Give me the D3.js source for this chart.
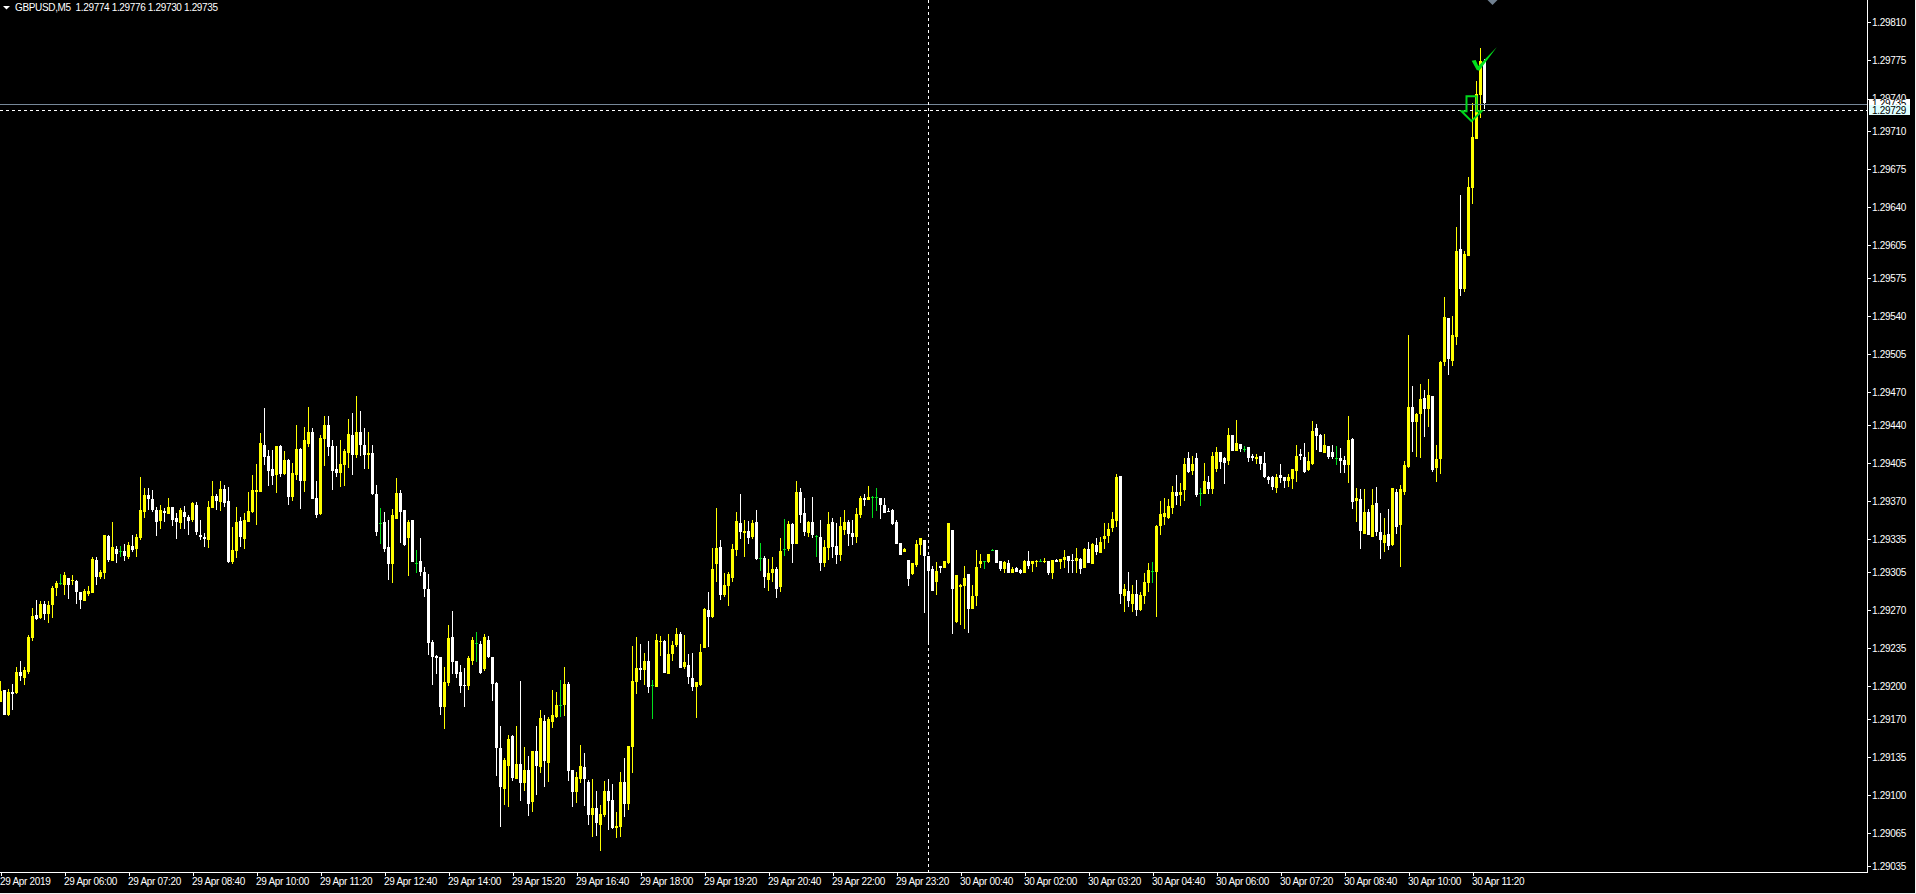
<!DOCTYPE html>
<html>
<head>
<meta charset="utf-8">
<style>
html,body{margin:0;padding:0;background:#000;overflow:hidden}
svg{display:block}
text{font-family:"Liberation Sans",Arial,sans-serif;font-size:10px;letter-spacing:-0.3px}
</style>
<script src="https://cdn.jsdelivr.net/npm/d3@7/dist/d3.min.js"></script>
</head>
<body>
<svg id="c" width="1916" height="894"></svg>
<script>
// All prices are in points above 1.29000 (1 point = 0.00001)
const highs = [
205,197,198,202,218,223,218,247,272,279,278,278,278,292,297,303,305,300,302,298,
287,289,292,319,319,307,339,339,351,329,329,331,333,339,340,392,382,382,380,365,
367,364,373,365,359,364,366,357,369,369,353,341,370,389,377,389,385,383,346,365,
356,359,379,394,404,433,456,417,417,421,422,416,409,405,440,419,438,457,437,389,
431,448,448,426,421,426,418,446,451,467,453,437,434,422,385,364,360,353,363,391,
380,362,353,353,325,336,310,303,243,229,227,218,256,269,223,220,217,228,245,250,
242,248,246,227,204,164,134,155,155,164,205,144,136,141,164,178,174,172,197,195,
206,218,204,123,121,146,139,114,115,104,91,113,115,110,85,121,134,145,237,245,
239,231,242,206,248,246,243,248,242,254,250,247,230,231,204,239,272,287,327,364,
334,304,305,331,360,377,353,352,353,362,332,320,317,319,310,336,354,352,350,389,
382,373,352,374,339,353,334,360,355,350,356,362,353,353,364,375,377,384,375,382,
373,373,364,363,353,332,327,316,313,334,336,334,320,311,314,311,315,350,344,302,
294,311,303,293,325,322,315,322,326,325,315,315,316,310,310,308,316,324,315,316,
317,318,315,316,317,317,325,320,322,327,318,327,333,332,336,337,350,350,360,395,
393,294,305,293,298,287,304,313,314,348,370,373,372,384,394,387,410,415,412,414,
382,405,393,415,420,415,411,437,431,445,423,421,420,413,413,412,415,393,393,395,
404,392,395,400,422,418,424,415,444,441,432,432,421,422,421,419,412,448,428,382,
381,381,363,381,383,359,355,363,382,381,385,407,523,476,451,478,472,482,467,422,
499,558,538,540,622,651,600,668,736,756,786,776];
const lows = [
186,174,173,178,193,205,201,211,242,261,262,261,258,263,283,293,284,280,293,276,
271,278,283,286,293,299,299,314,315,313,319,315,317,323,319,334,355,362,360,338,
345,351,358,347,335,345,345,339,351,339,334,328,327,364,362,361,365,313,312,318,
328,326,351,359,348,379,403,384,385,378,392,394,367,370,390,363,379,420,372,355,
357,402,412,380,392,383,384,401,394,410,412,400,400,376,338,331,323,298,295,354,
332,329,301,314,304,301,282,229,201,211,174,161,200,211,208,194,181,197,220,222,
211,214,226,187,118,71,91,89,113,115,95,104,81,85,100,120,108,112,162,171,
172,173,113,89,93,111,90,73,62,63,49,80,68,69,61,62,80,86,120,193,
206,201,194,170,199,228,212,211,223,236,217,216,202,196,171,200,235,236,263,296,
279,282,274,296,320,335,319,331,335,316,306,290,288,296,281,287,320,324,313,331,
350,338,337,336,319,306,310,316,318,312,315,339,329,330,332,355,366,371,355,361,
354,360,360,348,331,321,323,292,302,310,321,267,239,288,284,304,309,312,248,258,
256,253,249,271,274,309,308,313,324,313,306,304,304,304,305,303,304,308,305,310,
314,313,302,299,314,308,309,304,304,304,303,309,313,313,321,323,326,332,342,346,
276,268,273,268,265,269,276,287,295,264,339,348,354,358,367,366,370,396,394,374,
366,377,377,377,397,400,386,403,416,416,415,415,406,407,404,399,391,386,380,378,
387,382,383,381,388,408,396,398,403,417,415,415,409,409,403,396,396,387,363,351,
326,340,339,337,338,317,323,325,329,340,310,376,401,415,411,410,429,438,397,388,
395,494,486,494,514,559,562,596,643,703,722,730];
const opens = [
186,197,174,195,194,213,208,213,245,266,263,276,267,274,290,295,293,300,297,297,
287,279,285,286,316,300,304,338,315,326,324,324,319,329,326,336,360,376,372,362,
352,361,359,365,355,350,360,356,352,367,339,337,335,364,375,369,381,370,314,324,
352,336,351,360,378,379,422,412,400,394,421,395,408,374,394,418,388,423,434,373,
358,427,440,421,400,396,403,415,431,413,434,422,412,414,377,350,351,328,312,354,
378,362,336,353,313,315,305,289,241,228,227,181,203,245,223,213,201,200,224,240,
239,216,243,227,203,143,105,127,154,115,129,111,123,94,141,126,168,130,168,172,
183,183,202,123,103,115,126,112,82,88,73,82,104,96,70,71,112,92,144,204,
217,215,223,201,200,241,242,212,230,238,248,217,220,208,199,202,235,270,264,312,
328,284,292,299,325,350,341,343,337,351,318,318,298,304,308,291,326,326,349,331,
379,359,341,351,338,337,313,327,351,329,320,344,351,341,337,357,373,371,374,374,
373,367,361,362,351,332,323,316,303,312,330,334,320,308,296,311,309,313,344,259,
291,293,303,271,283,312,315,315,325,325,315,308,313,304,309,307,304,315,312,314,
315,314,315,304,316,314,316,320,316,315,317,309,326,313,330,323,335,339,346,352,
393,283,288,276,285,270,283,295,306,305,347,355,355,364,379,376,380,410,398,410,
378,377,388,382,399,415,410,407,431,417,423,418,420,412,409,412,405,392,392,382,
394,392,388,391,398,413,411,399,405,437,431,415,421,415,410,410,408,403,427,370,
372,340,360,338,368,342,332,340,330,379,348,378,402,457,443,450,465,455,467,401,
409,498,538,499,521,602,565,596,658,703,743,774];
const closes = [
196,174,195,193,213,209,215,245,265,262,276,267,275,290,295,295,302,294,298,287,
280,288,288,317,300,305,339,316,328,321,324,319,330,325,337,362,376,372,362,351,
362,359,365,353,351,362,355,352,368,342,337,335,365,375,370,381,368,314,325,351,
337,353,361,380,380,424,411,398,394,421,395,408,374,396,418,389,426,434,372,357,
428,440,420,398,396,404,416,432,413,434,422,413,414,376,342,350,326,312,357,378,
361,330,351,314,313,305,289,239,227,226,181,204,244,222,211,200,200,226,243,240,
212,245,227,202,143,107,132,152,115,129,112,123,92,141,127,171,131,170,174,183,
183,202,122,103,117,127,115,82,88,74,83,104,95,70,72,112,92,145,205,217,
215,223,199,201,243,242,213,230,238,248,217,222,209,200,204,232,271,264,308,327,
284,293,303,326,352,342,343,337,350,317,318,301,304,308,290,324,326,349,331,379,
358,342,351,339,338,313,328,349,328,321,347,351,340,337,358,373,371,374,374,374,
367,360,360,349,331,321,326,299,313,331,336,319,306,288,306,309,315,350,290,302,
293,300,271,283,310,315,315,322,325,313,308,314,304,308,305,304,315,310,315,315,
315,315,304,316,314,317,319,315,315,318,308,326,313,331,324,333,338,345,354,392,
285,289,279,285,270,284,296,307,306,347,358,359,366,379,375,379,404,397,404,376,
378,389,382,412,415,406,405,431,416,424,418,418,410,410,411,405,392,389,383,392,
391,388,392,400,412,411,397,407,435,430,415,422,411,410,410,407,403,426,369,373,
343,360,339,367,341,335,339,329,382,347,381,403,457,443,450,464,455,468,399,409,
498,539,500,523,600,565,597,659,705,744,774,735];

const priceTicks = [810,775,740,710,675,640,605,575,540,505,470,440,405,370,335,305,270,235,200,170,135,100,65,35];
const timeLabels = ["29 Apr 2019","29 Apr 06:00","29 Apr 07:20","29 Apr 08:40","29 Apr 10:00","29 Apr 11:20","29 Apr 12:40","29 Apr 14:00","29 Apr 15:20","29 Apr 16:40","29 Apr 18:00","29 Apr 19:20","29 Apr 20:40","29 Apr 22:00","29 Apr 23:20","30 Apr 00:40","30 Apr 02:00","30 Apr 03:20","30 Apr 04:40","30 Apr 06:00","30 Apr 07:20","30 Apr 08:40","30 Apr 10:00","30 Apr 11:20"];
const barsPerLabel = 16;
const headerText = "GBPUSD,M5  1.29774 1.29776 1.29730 1.29735";
const bidPoints = 735, crossPoints = 729, crossBar = 232;
const arrowBar = 368, arrowPoints = 733, checkBar = 370, checkPoints = 772, diamondBar = 373;

const fmt = p => (1.29 + p / 1e5).toFixed(5);
const x = d3.scaleLinear().domain([0, 371]).range([0.5, 1484.5]);
const y = d3.scaleLinear().domain([35, 810]).range([866, 22.3]);
const right = 1867.5, bottom = 872.5;
const svg = d3.select("#c");
const UP = "#ffff00", DOWN = "#ffffff", DOJI = "#00e01c";

svg.append("rect").attr("width", 1916).attr("height", 894).attr("fill", "#000");

const bars = d3.range(opens.length).map(i => ({i, o: opens[i], h: highs[i], l: lows[i], c: closes[i]}));
const colour = d => d.c > d.o ? UP : d.c < d.o ? DOWN : DOJI;

const plot = svg.append("g").attr("shape-rendering", "crispEdges");
plot.selectAll("line.wick").data(bars).join("line").attr("class", "wick")
  .attr("x1", d => x(d.i)).attr("x2", d => x(d.i))
  .attr("y1", d => y(d.h)).attr("y2", d => y(d.l))
  .attr("stroke", colour).attr("stroke-width", 1);
plot.selectAll("rect.body").data(bars).join("rect").attr("class", "body")
  .attr("x", d => x(d.i) - 1.5).attr("width", 3)
  .attr("y", d => Math.round(y(Math.max(d.o, d.c))))
  .attr("height", d => Math.max(1, Math.round(Math.abs(y(d.o) - y(d.c)))))
  .attr("fill", colour);

// price lines and crosshair
plot.append("line").attr("x1", 0).attr("x2", right).attr("y1", Math.round(y(bidPoints)) + 0.5).attr("y2", Math.round(y(bidPoints)) + 0.5)
  .attr("stroke", "#778899");
const crossY = Math.round(y(crossPoints)) + 0.5;
plot.append("line").attr("x1", 0).attr("x2", right).attr("y1", crossY).attr("y2", crossY)
  .attr("stroke", "#fff").attr("stroke-dasharray", "3 3");
plot.append("line").attr("x1", x(crossBar)).attr("x2", x(crossBar)).attr("y1", 0).attr("y2", bottom)
  .attr("stroke", "#fff").attr("stroke-dasharray", "3 3");

// annotation arrows
svg.append("path")
  .attr("transform", `translate(${x(arrowBar) - 1},${y(arrowPoints)})`)
  .attr("d", "M-5,-10 H5 V5 H10 L0,15 L-10,5 H-5 Z")
  .attr("fill", "none").attr("stroke", "#00d81c").attr("stroke-width", 2);
svg.append("path")
  .attr("transform", `translate(${x(checkBar)},${y(checkPoints)})`)
  .attr("d", "M-8.8,-2.9 L-4.8,-3.6 L-2.2,2.4 L16.2,-16.3 L-1.2,7.1 L-3.8,6.4 Z")
  .attr("fill", "#00e01c");
svg.append("path")
  .attr("transform", `translate(${x(diamondBar)},0)`)
  .attr("d", "M-5,0 L5,0 L0,5 Z")
  .attr("fill", "#708090");

// axes
const ax = svg.append("g").attr("transform", `translate(${right - 0.5},0)`)
  .call(d3.axisRight(y).tickValues(priceTicks).tickSize(3).tickPadding(3).tickFormat(fmt));
ax.select(".domain").remove();
ax.selectAll("line").attr("stroke", "#fff").attr("transform", "translate(1,0)").attr("shape-rendering", "crispEdges");
ax.selectAll("text").attr("fill", "#fff").attr("dy", "0.34em").attr("x", 5);

const bx = svg.append("g").attr("transform", `translate(0,${bottom})`)
  .call(d3.axisBottom(x).tickValues(timeLabels.map((_, k) => k * barsPerLabel)).tickSize(3).tickPadding(3)
    .tickFormat((_, k) => timeLabels[k]));
bx.select(".domain").remove();
bx.selectAll("line").attr("stroke", "#fff").attr("shape-rendering", "crispEdges");
bx.selectAll("text").attr("fill", "#fff").attr("text-anchor", "start").attr("x", -1).attr("y", 5).attr("dy", "0.71em");

const frame = svg.append("g").attr("shape-rendering", "crispEdges").attr("stroke", "#fff");
frame.append("line").attr("x1", right).attr("x2", right).attr("y1", 0).attr("y2", bottom);
frame.append("line").attr("x1", 0).attr("x2", right).attr("y1", bottom).attr("y2", bottom);
frame.append("line").attr("x1", 1915.5).attr("x2", 1915.5).attr("y1", 0).attr("y2", 894).attr("stroke", "#f0f0f0");
frame.append("line").attr("x1", 0).attr("x2", 1916).attr("y1", 893.5).attr("y2", 893.5).attr("stroke", "#f0f0f0");

// price boxes
function box(p, h, bg, top) {
  svg.append("rect").attr("x", 1869).attr("y", top).attr("width", 41).attr("height", h).attr("fill", bg).attr("shape-rendering", "crispEdges");
  svg.append("text").attr("x", 1872).attr("y", y(p)).attr("dy", "0.34em").attr("fill", "#000").text(fmt(p));
}
box(bidPoints, 10, "#ffffff", 99);
box(crossPoints, 10, "#e1ffff", 105);

// header
svg.append("path").attr("d", "M3,6 H10 L6.5,9.5 Z").attr("fill", "#fff");
svg.append("text").attr("x", 15).attr("y", 11).attr("fill", "#fff").attr("xml:space", "preserve").style("white-space", "pre").style("letter-spacing", "-0.35px").text(headerText);
</script>
</body>
</html>
